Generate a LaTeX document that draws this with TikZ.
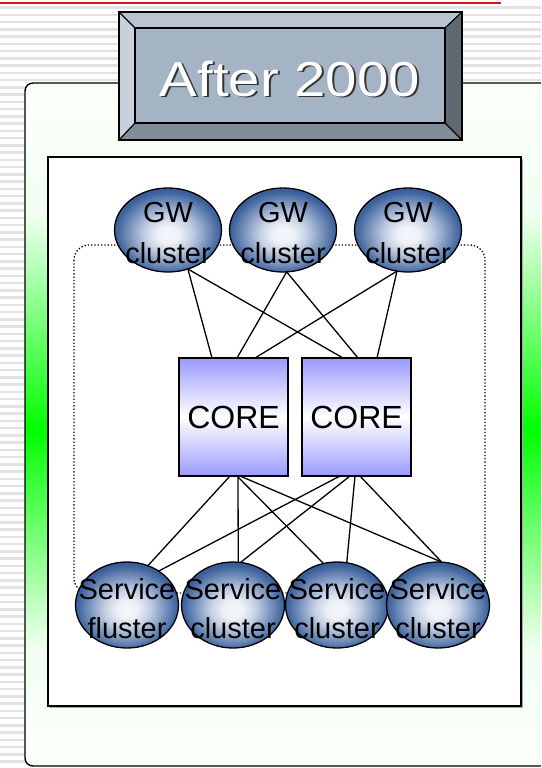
\documentclass[tikz,border=0pt]{standalone}
\usepackage{fontspec}
\setmainfont{Liberation Sans}
\usetikzlibrary{shapes.geometric,calc}

\definecolor{stripegray}{HTML}{E2E2E2}
\definecolor{rulered}{HTML}{D01818}
\definecolor{pgEdge}{HTML}{FBFFFB}
\definecolor{pgPale}{HTML}{F2FFF2}
\definecolor{pgFull}{HTML}{00FF00}
\definecolor{bevTop}{HTML}{B8C4D0}
\definecolor{bevLeft}{HTML}{C8D0DC}
\definecolor{bevRight}{HTML}{606870}
\definecolor{bevBottom}{HTML}{808C98}
\definecolor{bevFace}{HTML}{A4B4C4}
\definecolor{coreBlue}{HTML}{9A9AFF}
\definecolor{bulbIn}{HTML}{F5F6FA}
\definecolor{bulbWhite}{HTML}{EEF1F7}
\definecolor{bulbSoft}{HTML}{C4D0E4}
\definecolor{bulbMid}{HTML}{7D96BF}
\definecolor{bulbDeep}{HTML}{4A6DA4}
\definecolor{bulbOut}{HTML}{3A5E98}
\definecolor{titleShade}{HTML}{333333}

% pale at the ends, full green across the middle of the panel
\pgfdeclareverticalshading{panelgreen}{100bp}{%
  color(0bp)=(pgEdge); color(25bp)=(pgEdge); color(33.6bp)=(pgPale);
  color(49.6bp)=(pgFull); color(65.4bp)=(pgPale); color(75bp)=(pgEdge);
  color(100bp)=(pgEdge)}

% glossy sphere for the cluster ellipses
\pgfdeclareradialshading{bulb}{\pgfpoint{0bp}{-3bp}}{%
  color(0bp)=(bulbIn); color(5bp)=(bulbWhite); color(11bp)=(bulbSoft);
  color(18bp)=(bulbMid); color(23bp)=(bulbDeep); color(25bp)=(bulbOut);
  color(50bp)=(bulbOut)}

% white lettering with a dark drop shadow
\newcommand{\shadowtext}[1]{%
  \makebox[0pt][l]{\hspace{1.6pt}\raisebox{-1.6pt}{\textcolor{titleShade}{#1}}}#1}

\tikzset{
  link/.style={line width=1.3pt, black},
  cluster/.style={ellipse, draw=black, line width=1.3pt, shading=bulb,
    inner sep=0pt, outer sep=0pt},
  gwshape/.style={cluster, minimum width=107pt, minimum height=84pt},
  svshape/.style={cluster, minimum width=103pt, minimum height=86pt},
  gwtext/.style={align=center, inner sep=0pt, font=\fontsize{29}{41}\selectfont},
  svtext/.style={align=center, inner sep=0pt, font=\fontsize{29}{39}\selectfont},
  corebox/.style={rectangle, draw=black, line width=1.4pt, top color=coreBlue,
    bottom color=coreBlue, middle color=white, minimum width=109pt,
    minimum height=118pt, inner sep=0pt, outer sep=0pt,
    font=\fontsize{32}{36}\selectfont},
}

\begin{document}
\begin{tikzpicture}[x=1pt, y=-1pt]
\useasboundingbox (0,0) rectangle (541,768);

% striped page background
\fill[white] (0,0) rectangle (541,768);
\foreach \k in {0,...,105}{
  \fill[stripegray] (0,{6.3+7.25*\k}) rectangle (541,{8.8+7.25*\k});
}
\draw[rulered, line width=1.6pt] (0,3) -- (501,3);

% green panel
\begin{scope}
  \clip (0,0) rectangle (541,768);
  \draw[line width=1.4pt, rounded corners=8pt, shading=panelgreen]
    (25,83) rectangle (552,766);
\end{scope}

% bevelled title plate
\fill[bevTop]    (119,12) -- (462,12) -- (445,28) -- (135,28) -- cycle;
\fill[bevLeft]   (119,12) -- (135,28) -- (135,123) -- (119,140) -- cycle;
\fill[bevRight]  (462,12) -- (462,140) -- (445,123) -- (445,28) -- cycle;
\fill[bevBottom] (119,140) -- (462,140) -- (445,123) -- (135,123) -- cycle;
\fill[bevFace]   (135,28) rectangle (445,123);
\draw[line width=1.5pt] (119,12) rectangle (462,140);
\draw[line width=1.5pt] (135,28) rectangle (445,123);
\draw[line width=1.2pt] (119,12) -- (135,28) (462,12) -- (445,28)
  (119,140) -- (135,123) (462,140) -- (445,123);
\node[text=white, font=\fontsize{49}{52}\selectfont] (title) at (290,79.5)
  {\scalebox{1.15}[1]{\shadowtext{After 2000}}};

% white drawing area
\fill[black!35] (49.5,158.5) rectangle (523,708);
\draw[line width=1.4pt, fill=white] (48,157) rectangle (521,706);

% dotted grouping frame
\draw[dotted, line width=1.3pt, rounded corners=15pt] (74,245) rectangle (485,593);

% core switches
\node[corebox] (core1) at (233.5,417) {CORE};
\node[corebox] (core2) at (356.5,417) {CORE};

% clusters
\node[gwshape] (gw1) at (168,230) {};
\node[gwshape] (gw2) at (283,230) {};
\node[gwshape] (gw3) at (408,230) {};
\node[svshape] (sv1) at (127,605) {};
\node[svshape] (sv2) at (233,605) {};
\node[svshape] (sv3) at (337,605) {};
\node[svshape] (sv4) at (438,605) {};

% gateway uplinks
\draw[link] (gw1.-63)  -- ([xshift=-21.5pt]core1.north);
\draw[link] (gw1.-63)  -- ([xshift=-13.5pt]core2.north);
\draw[link] (gw2.-85)  -- ([xshift=3.5pt]core1.north);
\draw[link] (gw2.-85)  -- ([xshift=1.5pt]core2.north);
\draw[link] (gw3.-105) -- ([xshift=21.5pt]core1.north);
\draw[link] (gw3.-105) -- ([xshift=20.5pt]core2.north);

% service downlinks
\draw[link] ([xshift=-3.5pt]core1.south) -- (sv1.62);
\draw[link] ([xshift=4.5pt]core1.south)  -- (sv2.83);
\draw[link] ([xshift=3.5pt]core1.south)  -- (sv3.108);
\draw[link] ([xshift=6.5pt]core1.south)  -- (sv4.85);
\draw[link] ([xshift=-16.5pt]core2.south) -- (sv1.47);
\draw[link] ([xshift=-6.5pt]core2.south)  -- (sv2.80);
\draw[link] ([xshift=-1.5pt]core2.south)  -- (sv3.77);
\draw[link] ([xshift=3.5pt]core2.south)   -- (sv4.85);

% cluster labels
\node[gwtext] (gw1t) at ([yshift=-3pt]gw1.center) {GW\\cluster};
\node[gwtext] (gw2t) at ([yshift=-3pt]gw2.center) {GW\\cluster};
\node[gwtext] (gw3t) at ([yshift=-3pt]gw3.center) {GW\\cluster};
\node[svtext] (sv1t) at ([yshift=-4pt]sv1.center) {Service\\fluster};
\node[svtext] (sv2t) at ([yshift=-4pt]sv2.center) {Service\\cluster};
\node[svtext] (sv3t) at ([yshift=-4pt]sv3.center) {Service\\cluster};
\node[svtext] (sv4t) at ([yshift=-4pt]sv4.center) {Service\\cluster};
\end{tikzpicture}
\end{document}
